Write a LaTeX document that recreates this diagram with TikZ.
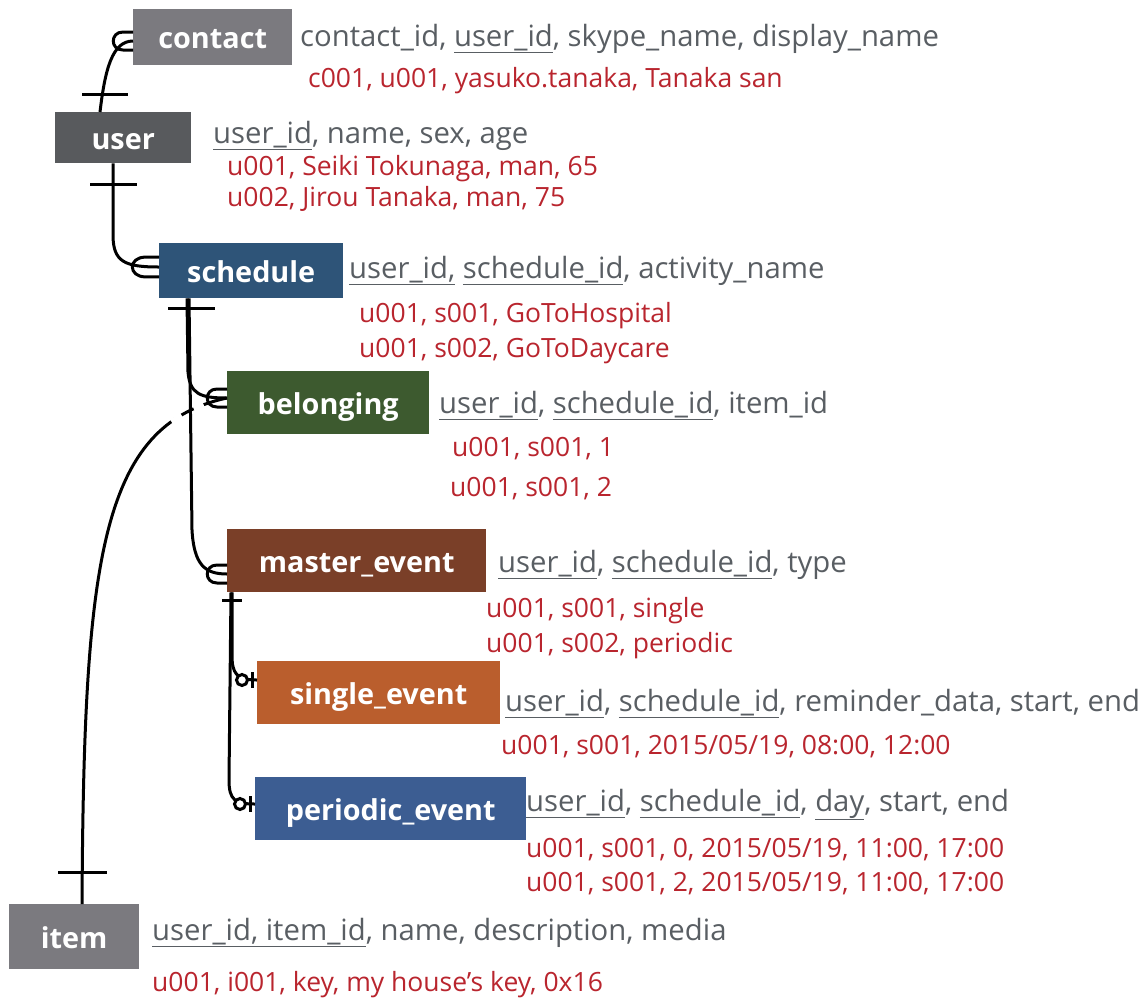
\documentclass[tikz,border=0pt]{standalone}
\usepackage{fontspec}
\setmainfont{Open Sans}
\usetikzlibrary{positioning, calc}
\definecolor{contactgray}{RGB}{123,122,127}
\definecolor{usergray}{RGB}{88,90,93}
\definecolor{schedblue}{RGB}{46,84,120}
\definecolor{belonggreen}{RGB}{61,90,47}
\definecolor{masterbrown}{RGB}{122,63,40}
\definecolor{singleorange}{RGB}{186,94,45}
\definecolor{periodblue}{RGB}{60,93,146}
\definecolor{headgray}{RGB}{89,94,99}
\definecolor{rowred}{RGB}{185,37,46}
\tikzset{
    table/.style={rectangle, inner sep=0pt, anchor=north west, text=white,
        text height=25pt, text depth=2pt,
        font=\fontsize{28.8}{32}\selectfont\bfseries},
    head/.style={anchor=base west, inner sep=0pt, text=headgray,
        font=\fontsize{29.3}{32}\selectfont},
    row/.style={anchor=base west, inner sep=0pt, text=rowred,
        font=\fontsize{26.5}{30}\selectfont},
    link/.style={line width=3pt, black},
    many/.pic={\draw[link] (0,-9) -- (-10,-9) .. controls (-23,-9) and (-23,9) .. (-10,9) -- (0,9);},
    zeroone/.pic={\draw[link] (-5,-8) -- (-5,8);
        \draw[link, fill=white] (-15,0) circle (5.5pt);},
}

\begin{document}
\begin{tikzpicture}[x=1pt, y=-1pt]
    \useasboundingbox (0,0) rectangle (1147,999);

    % tables
    \node[table, fill=contactgray, minimum width=159pt, minimum height=56pt] (contact) at (133,9) {contact};
    \node[table, fill=usergray, minimum width=136pt, minimum height=51pt] (user) at (55,112) {user};
    \node[table, fill=schedblue, minimum width=184pt, minimum height=55pt] (schedule) at (159,243) {schedule};
    \node[table, fill=belonggreen, minimum width=202pt, minimum height=63pt] (belonging) at (227,371) {belonging};
    \node[table, fill=masterbrown, minimum width=259pt, minimum height=63pt] (master) at (227,529) {master\_event};
    \node[table, fill=singleorange, minimum width=243pt, minimum height=63pt] (single) at (257,661) {single\_event};
    \node[table, fill=periodblue, minimum width=271pt, minimum height=63pt] (periodic) at (255,777) {periodic\_event};
    \node[table, fill=contactgray, minimum width=130pt, minimum height=65pt] (item) at (9,904) {item};

    % columns and rows
    \node[head] (contactH) at (300,46) {contact\_id, \underline{user\_id}, skype\_name, display\_name};
    \node[row] (contactR1) at (308,87) {c001, u001, yasuko.tanaka, Tanaka san};
    \node[head] (userH) at (213,143) {\underline{user\_id}, name, sex, age};
    \node[row] (userR1) at (227,175) {u001, Seiki Tokunaga, man, 65};
    \node[row] (userR2) at (227,206) {u002, Jirou Tanaka, man, 75};
    \node[head] (scheduleH) at (349,278) {\underline{user\_id,} \underline{schedule\_id}, activity\_name};
    \node[row] (scheduleR1) at (359,322) {u001, s001, GoToHospital};
    \node[row] (scheduleR2) at (359,357) {u001, s002, GoToDaycare};
    \node[head] (belongingH) at (439,413) {\underline{user\_id}, \underline{schedule\_id}, item\_id};
    \node[row] (belongingR1) at (452,456) {u001, s001, 1};
    \node[row] (belongingR2) at (450,496) {u001, s001, 2};
    \node[head] (masterH) at (498,572) {\underline{user\_id}, \underline{schedule\_id}, type};
    \node[row] (masterR1) at (486,617) {u001, s001, single};
    \node[row] (masterR2) at (486,652) {u001, s002, periodic};
    \node[head] (singleH) at (505,711) {\underline{user\_id}, \underline{schedule\_id}, reminder\_data, start, end};
    \node[row] (singleR1) at (501,754) {u001, s001, 2015/05/19, 08:00, 12:00};
    \node[head] (periodicH) at (526,811) {\underline{user\_id}, \underline{schedule\_id}, \underline{day}, start, end};
    \node[row] (periodicR1) at (526,857) {u001, s001, 0, 2015/05/19, 11:00, 17:00};
    \node[row] (periodicR2) at (526,891) {u001, s001, 2, 2015/05/19, 11:00, 17:00};
    \node[head] (itemH) at (152,940) {\underline{user\_id, item\_id}, name, description, media};
    \node[row] (itemR1) at (152,991) {u001, i001, key, my house’s key, 0x16};

    % item -- belonging, broken where it crosses
    \draw[link] ($(item.north west)+(73,0)$) .. controls (84,560) and (100,425) .. ($(belonging.north west)+(0,27)$)
        coordinate[pos=0.83] (gapA) coordinate[pos=0.865] (gapB)
        coordinate[pos=0.905] (gapC) coordinate[pos=0.935] (gapD);
    \draw[white, line width=5pt] (gapA) -- (gapB) (gapC) -- (gapD);
    \draw[link] ($(item.north west)+(49,-32)$) -- ($(item.north west)+(98,-32)$);

    % user -- contact
    \draw[link] ($(user.north west)+(45,0)$) .. controls (105,70) and (112,41) .. ($(contact.north west)+(0,32)$);
    \draw[link] ($(user.north west)+(27,-18)$) -- ($(user.north west)+(73,-18)$);
    \pic at ($(contact.north west)+(0,32)$) {many};

    % user -- schedule
    \draw[link] ($(user.south west)+(58,0)$) -- (113,235) .. controls (113,262) and (125,267) .. ($(schedule.north west)+(0,24)$);
    \draw[link] ($(user.south west)+(35,21)$) -- ($(user.south west)+(82,21)$);
    \pic[xscale=1.35, yscale=1.1] at ($(schedule.north west)+(0,24)$) {many};

    % schedule -- belonging, master_event
    \draw[link] ($(schedule.south west)+(28,0)$) -- (188,372) .. controls (190,394) and (200,398) .. ($(belonging.north west)+(0,27)$);
    \draw[link] ($(schedule.south west)+(30,0)$) -- (192,530) .. controls (194,565) and (205,574) .. ($(master.north west)+(0,45)$);
    \draw[link] ($(schedule.south west)+(9,10)$) -- ($(schedule.south west)+(56,10)$);
    \pic at ($(belonging.north west)+(0,27)$) {many};
    \pic at ($(master.north west)+(0,45)$) {many};

    % master_event -- single_event, periodic_event
    \draw[link] ($(master.south west)+(5,0)$) -- (232,655) .. controls (232,673) and (236,680) .. ($(single.north west)+(0,19)$);
    \draw[link] ($(master.south west)+(4,0)$) -- (229,780) .. controls (229,800) and (235,804) .. ($(periodic.north west)+(0,27)$);
    \draw[link] ($(master.south west)+(-5,8)$) -- ($(master.south west)+(15,8)$);
    \pic at ($(single.north west)+(0,19)$) {zeroone};
    \pic at ($(periodic.north west)+(0,27)$) {zeroone};
\end{tikzpicture}
\end{document}
